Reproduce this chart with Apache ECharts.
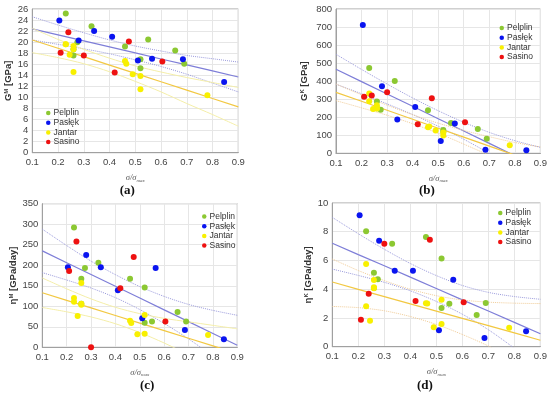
<!DOCTYPE html>
<html><head><meta charset="utf-8">
<script src="https://cdn.jsdelivr.net/npm/echarts@6/dist/echarts.min.js"></script>
<style>html,body{margin:0;padding:0;background:#fff}#c{width:550px;height:396px}</style>
</head><body><div id="c"></div>
<script>
// ---- data ----
const groupNames = ['Pelplin', 'Pasłęk', 'Jantar', 'Sasino'];
const xTicks = [0.1, 0.2, 0.3, 0.4, 0.5, 0.6, 0.7, 0.8, 0.9];

const xPelplin = [0.23, 0.26, 0.26, 0.275, 0.33, 0.46, 0.52, 0.52, 0.55, 0.655, 0.69];
const xPaslek  = [0.205, 0.28, 0.34, 0.41, 0.51, 0.565, 0.685, 0.845];
const xJantar  = [0.23, 0.23, 0.245, 0.26, 0.26, 0.26, 0.46, 0.465, 0.49, 0.52, 0.52, 0.78];
const xSasino  = [0.21, 0.24, 0.30, 0.42, 0.475, 0.605];

// panel (a) G^M
const aPelplin = [25.2, 17.6, 18.7, 20.0, 22.9, 19.2, 16.9, 15.3, 20.5, 18.5, 16.1];
const aPaslek  = [23.9, 20.3, 22.0, 21.0, 16.7, 17.0, 16.9, 12.8];
const aJantar  = [19.6, 19.6, 17.7, 19.3, 18.7, 14.6, 16.6, 16.1, 14.2, 13.9, 11.5, 10.4];
const aSasino  = [18.1, 21.8, 17.6, 14.5, 20.1, 16.5];
const aBlueFit = [22.4, 21.31, 20.22, 19.14, 18.05, 16.96, 15.88, 14.79, 13.7];
const aBlueUp  = [24.6, 23.1, 21.7, 20.4, 19.3, 18.4, 17.6, 17.0, 16.4];
const aBlueLo  = [20.4, 19.6, 18.8, 17.9, 16.8, 15.6, 14.2, 12.6, 11.0];
const aYelFit  = [20.4, 18.89, 17.38, 15.85, 14.34, 12.83, 11.33, 9.8, 8.3];
const aYelUp   = [22.5, 20.5, 18.7, 17.1, 15.7, 14.6, 13.6, 12.7, 11.8];
const aYelLo   = [18.1, 17.2, 16.1, 14.65, 12.9, 11.0, 8.9, 6.9, 4.8];

// panel (b) G^K
const bPelplin = [473, 287, 250, 242, 401, 238, 129, 118, 168, 135, 81];
const bPaslek  = [711, 372, 187, 257, 68, 165, 20, 17];
const bJantar  = [331, 288, 246, 266, 248, 250, 144, 148, 126, 115, 98, 44];
const bSasino  = [314, 320, 338, 161, 305, 172];
const bBlueFit = [466, 397.5, 329, 260.5, 192, 123.5, 55, -13.5, -82];
const bBlueUp  = [549, 465, 384, 307, 236, 172, 116, 70, 33];
const bBlueLo  = [383, 330, 274, 215, 150, 78, 0, -80, -160];
const bYelFit  = [338, 288.3, 238.6, 189, 139, 89.4, 39.7, -10, -60];
const bYelUp   = [384, 324, 267, 214, 167, 127, 92, 60, 35];
const bYelLo   = [292, 252, 211, 164, 111, 51, -12, -80, -155];

// panel (c) eta^M
const cPelplin = [292, 167, 106, 193, 206, 167, 146, 60, 63, 86, 63];
const cPaslek  = [195, 225, 195, 139, 71, 193, 42, 19.5];
const cJantar  = [120, 111, 76, 157, 106, 104, 65, 59, 32, 33, 79, 30];
const cSasino  = [186, 258, 0, 144, 220, 63];
const cBlueFit = [235, 206.25, 177.5, 148.75, 120, 91.25, 62.5, 33.75, 5];
const cBlueUp  = [288, 248, 210, 177, 148, 124, 104.5, 90, 78];
const cBlueLo  = [182, 164, 144.5, 121, 92, 58, 20.5, -22, -68];
const cYelFit  = [133, 114.5, 96, 77.5, 59, 40.5, 22, 3.5, -15];
const cYelUp   = [169, 142.5, 118, 97.5, 82, 70.5, 62, 53.5, 45];
const cYelLo   = [97, 86.5, 74, 57.5, 36, 10.5, -18, -46.5, -75];

// panel (d) eta^K
const dPelplin = [8.03, 5.15, 4.08, 4.69, 7.17, 7.63, 6.13, 2.69, 2.99, 2.2, 3.04];
const dPaslek  = [9.14, 7.38, 5.29, 5.29, 1.14, 4.66, 0.6, 1.07];
const dJantar  = [5.75, 2.81, 1.81, 4.64, 4.13, 4.06, 3.02, 3.0, 1.35, 1.58, 3.27, 1.32];
const dSasino  = [1.88, 3.69, 7.17, 3.18, 7.45, 3.09];
const dBlueFit = [7.2, 6.41, 5.63, 4.84, 4.05, 3.26, 2.48, 1.69, 0.9];
const dBlueUp  = [9.0, 7.86, 6.78, 5.79, 4.95, 4.26, 3.78, 3.49, 3.3];
const dBlueLo  = [5.4, 4.96, 4.48, 3.89, 3.15, 2.26, 1.18, -0.11, -1.5];
const dYelFit  = [4.5, 3.99, 3.49, 2.98, 2.48, 1.97, 1.47, 0.96, 0.45];
const dYelUp   = [6.1, 5.3, 4.6, 4.0, 3.55, 3.25, 3.1, 3.03, 3.0];
const dYelLo   = [2.8, 2.72, 2.5, 2.1, 1.55, 0.85, 0.05, -0.9, -2.0];

// ---- build ----
const colors = {Pelplin: '#8cc832', 'Pasłęk': '#0a14f0', Jantar: '#f8f000', Sasino: '#ee1111'};
const FONT = 'Liberation Sans, Arial, sans-serif';

const panels = [
  {grid: {left: 32.3, top: 9, width: 206, height: 143.7}, ymax: 26, yint: 2, sym: 'M', unit: ' [GPa]', nameGap: 16,
   pts: [aPelplin, aPaslek, aJantar, aSasino], fits: [aBlueFit, aBlueUp, aBlueLo, aYelFit, aYelUp, aYelLo],
   legend: {left: 46, top: 108.5}, cap: '(a)', capPos: [127.7, 192.5], bandStyle: 'solid', bandColor: '#f4eea8'},
  {grid: {left: 336, top: 9, width: 204.7, height: 144.3}, ymax: 800, yint: 100, sym: 'K', unit: ' [GPa]', nameGap: 27,
   pts: [bPelplin, bPaslek, bJantar, bSasino], fits: [bBlueFit, bBlueUp, bBlueLo, bYelFit, bYelUp, bYelLo],
   legend: {left: 499.5, top: 23.5}, cap: '(b)', capPos: [427, 192], bandStyle: 'dotted', bandColor: '#f0cc98'},
  {grid: {left: 42.3, top: 203.7, width: 195, height: 143.6}, ymax: 350, yint: 50, sym: 'M', unit: ' [GPa/day]', nameGap: 24, eta: true,
   pts: [cPelplin, cPaslek, cJantar, cSasino], fits: [cBlueFit, cBlueUp, cBlueLo, cYelFit, cYelUp, cYelLo],
   legend: {left: 202, top: 212}, cap: '(c)', capPos: [148, 387.5], bandStyle: 'solid', bandColor: '#f4eea8'},
  {grid: {left: 332.3, top: 203, width: 208.4, height: 143.7}, ymax: 10, yint: 2, sym: 'K', unit: ' [GPa/day]', nameGap: 13, eta: true,
   pts: [dPelplin, dPaslek, dJantar, dSasino], fits: [dBlueFit, dBlueUp, dBlueLo, dYelFit, dYelUp, dYelLo],
   legend: {left: 498, top: 208.5}, cap: '(d)', capPos: [425, 387.5], bandStyle: 'dotted', bandColor: '#f0cc98'}
];
const xs = [xPelplin, xPaslek, xJantar, xSasino];

const option = {
  animation: false,
  grid: [], xAxis: [], yAxis: [], series: [], legend: [], graphic: []
};

panels.forEach((p, i) => {
  option.grid.push(Object.assign({show: true, borderColor: '#a0a0a0', borderWidth: 1, containLabel: false}, p.grid));
  option.xAxis.push({
    type: 'value', gridIndex: i, min: 0.1, max: 0.9, interval: 0.1,
    axisLine: {show: true, lineStyle: {color: '#a0a0a0'}},
    axisTick: {show: false},
    splitLine: {show: true, lineStyle: {color: '#e6e6e6', width: 1}},
    axisLabel: {fontFamily: FONT, fontSize: 9.5, color: '#444', margin: 5, formatter: v => v.toFixed(1)},
    name: '{i|σ/σ}{s|max}', nameLocation: 'middle', nameGap: 21,
    nameTextStyle: {rich: {i: {fontFamily: 'Liberation Serif, serif', fontStyle: 'italic', fontSize: 8.5, color: '#555'},
                           s: {fontFamily: 'Liberation Serif, serif', fontStyle: 'italic', fontSize: 5, color: '#555', verticalAlign: 'bottom', padding: [4, 0, 0, 0]}}}
  });
  option.yAxis.push({
    type: 'value', gridIndex: i, min: 0, max: p.ymax, interval: p.yint,
    axisLine: {show: true, lineStyle: {color: '#a0a0a0'}},
    axisTick: {show: false},
    splitLine: {show: true, lineStyle: {color: '#e6e6e6', width: 1}},
    axisLabel: {fontFamily: FONT, fontSize: 9.5, color: '#444', margin: 4},
    name: '{m|' + (p.eta ? 'η' : 'G') + '}{s|' + p.sym + '}{m|' + p.unit + '}',
    nameLocation: 'middle', nameGap: p.nameGap,
    nameTextStyle: {rich: {m: {fontFamily: FONT, fontWeight: 'bold', fontSize: 9.5, color: '#333'},
                           s: {fontFamily: FONT, fontWeight: 'bold', fontSize: 6, color: '#333', verticalAlign: 'top', padding: [0, 0, 4, 0]}}}
  });
  // fit lines
  const fitDefs = [
    {d: p.fits[0], color: '#7e7ed8', type: 'solid', w: 1.2},
    {d: p.fits[1], color: '#9c9cdc', type: 'dotted', w: 1},
    {d: p.fits[2], color: '#9c9cdc', type: 'dotted', w: 1},
    {d: p.fits[3], color: '#f2c842', type: 'solid', w: 1.2},
    {d: p.fits[4], color: p.bandColor, type: p.bandStyle, w: 1},
    {d: p.fits[5], color: p.bandColor, type: p.bandStyle, w: 1}
  ];
  fitDefs.forEach((f, k) => {
    option.series.push({
      type: 'line', name: 'fit' + i + '_' + k, xAxisIndex: i, yAxisIndex: i,
      data: xTicks.map((x, j) => [x, f.d[j]]), showSymbol: false, symbol: 'none', smooth: k % 3 !== 0 ? 0.3 : false,
      clip: true, z: 2, silent: true,
      lineStyle: {color: f.color, type: f.type, width: f.w}
    });
  });
  groupNames.forEach((g, k) => {
    option.series.push({
      type: 'scatter', name: g, xAxisIndex: i, yAxisIndex: i,
      data: xs[k].map((x, j) => [x, p.pts[k][j]]),
      symbol: 'circle', symbolSize: 6, z: 5,
      itemStyle: {color: colors[g], opacity: 1}
    });
  });
  option.legend.push({
    data: groupNames, orient: 'vertical', left: p.legend.left, top: p.legend.top,
    icon: 'circle', itemWidth: 4.5, itemHeight: 4.5, itemGap: 0.7,
    textStyle: {fontFamily: FONT, fontSize: 8.5, lineHeight: 8, color: '#333', padding: [0, 0, 0, -2]},
    padding: 0, selectedMode: false
  });
  option.graphic.push({
    type: 'text', left: p.capPos[0] - 8, top: p.capPos[1] - 8,
    style: {text: p.cap, font: 'bold 13px "Liberation Serif", serif', fill: '#111'}
  });
});

const chart = echarts.init(document.getElementById('c'), null, {renderer: 'canvas'});
chart.setOption(option);
</script></body></html>
